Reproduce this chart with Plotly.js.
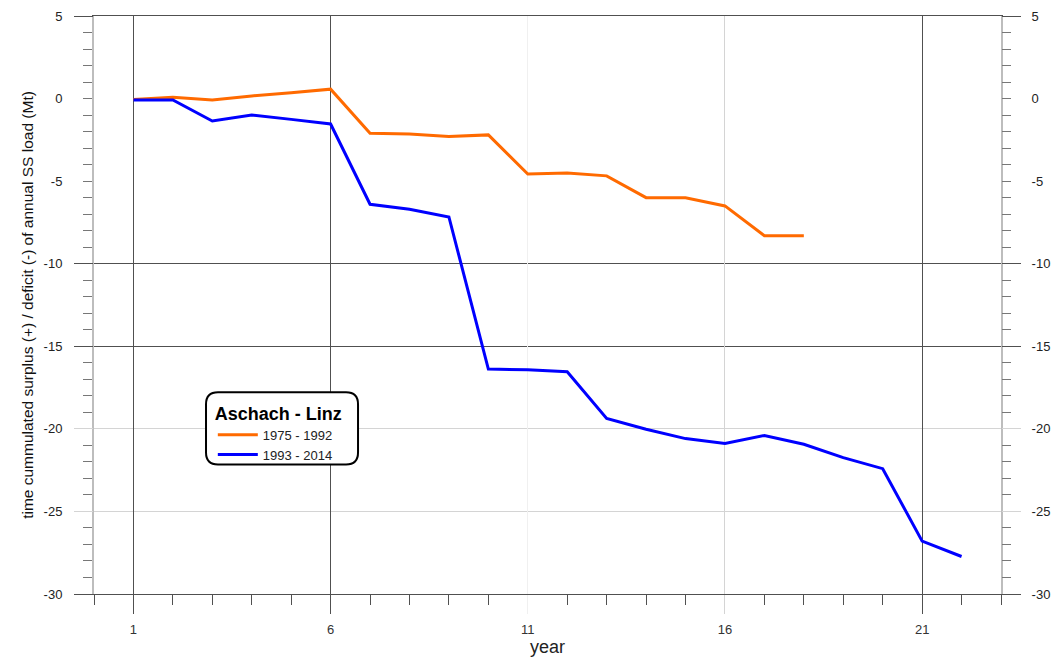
<!DOCTYPE html>
<html>
<head>
<meta charset="utf-8">
<script src="https://cdn.plot.ly/plotly-3.0.1.min.js"></script>
<style>html,body{margin:0;padding:0;background:#fff;}#chart{width:1055px;height:660px;}</style>
</head>
<body>
<div id="chart"></div>
<script>
// ---- data ----
const yearsOrange = [1,2,3,4,5,6,7,8,9,10,11,12,13,14,15,16,17,18];
const valuesOrange = [-0.05,0.08,-0.08,0.16,0.35,0.57,-2.1,-2.15,-2.3,-2.2,-4.57,-4.5,-4.68,-6.0,-6.0,-6.5,-8.3,-8.3];
const yearsBlue = [1,2,3,4,5,6,7,8,9,10,11,12,13,14,15,16,17,18,19,20,21,22];
const valuesBlue = [-0.08,-0.08,-1.36,-1.0,-1.26,-1.54,-6.4,-6.7,-7.17,-16.38,-16.42,-16.54,-19.37,-20.02,-20.59,-20.88,-20.4,-20.93,-21.74,-22.41,-26.8,-27.73];
const seriesNames = ['1975 - 1992','1993 - 2014'];
const legendTitle = 'Aschach - Linz';
const xTickVals = [1,6,11,16,21];
const xTickText = ['1','6','11','16','21'];
const yTickVals = [5,0,-5,-10,-15,-20,-25,-30];
const yTickText = ['5','0','-5','-10','-15','-20','-25','-30'];
const yGridDark = [5,-10,-15,-30];
const yGridLight = [-20,-25];
const xGridDark = [1,6,21];
const xGridLight = [16];
const xGridFaint = [11];
const xTitle = 'year';
const yTitle = 'time cummulated surplus (+) / deficit (-) of annual SS load (Mt)';

const FONT = 'Arial, "Liberation Sans", sans-serif';
const DARK = '#505050', LIGHT = '#d4d4d4', FAINT = '#f0f0f0';

// empty helper traces so that every overlay axis (grid / right labels) gets drawn
function axisHolder(xa, ya) {
  return {x: [], y: [], type: 'scatter', mode: 'lines', xaxis: xa, yaxis: ya,
    showlegend: false, hoverinfo: 'skip'};
}

const traces = [
  axisHolder('x2', 'y'), axisHolder('x3', 'y'), axisHolder('x4', 'y'),
  axisHolder('x', 'y2'), axisHolder('x', 'y3'), axisHolder('x', 'y4'),
  {x: yearsOrange, y: valuesOrange, name: seriesNames[0], type: 'scatter', mode: 'lines',
   line: {color: '#ff6a00', width: 3}},
  {x: yearsBlue, y: valuesBlue, name: seriesNames[1], type: 'scatter', mode: 'lines',
   line: {color: '#0000ff', width: 3}}
];

const XR = [0, 23], YR = [-30, 5];
function gridX(vals, color) {
  return {overlaying: 'x', anchor: 'y', range: XR, tickmode: 'array', tickvals: vals,
    showticklabels: false, ticks: 'outside', ticklen: 19, tickcolor: color, tickwidth: 1,
    showgrid: true, gridcolor: color, gridwidth: 1, zeroline: false, showline: false, fixedrange: true};
}
function gridY(vals, color) {
  return {overlaying: 'y', anchor: 'x', range: YR, tickmode: 'array', tickvals: vals,
    showticklabels: false, ticks: 'outside', ticklen: 19, tickcolor: color, tickwidth: 1, mirror: 'ticks',
    showgrid: true, gridcolor: color, gridwidth: 1, zeroline: false, showline: false, fixedrange: true};
}

// legend rounded box (paper coords)
const bx0 = 0.1235, bx1 = 0.2911, by0 = 0.2242, by1 = 0.3489, rx = 0.0132, ry = 0.0208;
const boxPath = `M${bx0+rx},${by1} L${bx1-rx},${by1} Q${bx1},${by1} ${bx1},${by1-ry} L${bx1},${by0+ry} Q${bx1},${by0} ${bx1-rx},${by0} L${bx0+rx},${by0} Q${bx0},${by0} ${bx0},${by0+ry} L${bx0},${by1-ry} Q${bx0},${by1} ${bx0+rx},${by1} Z`;

const layout = {
  width: 1055, height: 660,
  margin: {l: 94, r: 54, t: 16, b: 66},
  paper_bgcolor: '#fff', plot_bgcolor: 'rgba(0,0,0,0)',
  font: {family: FONT, size: 13, color: '#222'},
  showlegend: true,
  legend: {x: 0.131, y: 0.342, xanchor: 'left', yanchor: 'top', bgcolor: 'rgba(0,0,0,0)', borderwidth: 0,
    title: {text: legendTitle, font: {family: FONT, size: 18, weight: 'bold', color: '#000'}},
    font: {family: FONT, size: 13, color: '#222'}, tracegroupgap: 0, itemwidth: 40},
  xaxis: {range: XR, tickmode: 'array', tickvals: xTickVals, ticktext: xTickText,
    ticks: 'outside', ticklen: 19, tickcolor: 'rgba(0,0,0,0)', ticklabelstandoff: 4,
    minor: {dtick: 1, tick0: 0, ticks: 'outside', ticklen: 10, tickcolor: DARK, tickwidth: 1, showgrid: false},
    showgrid: false, zeroline: false, showline: true, linecolor: DARK, linewidth: 1, mirror: true,
    fixedrange: true,
    tickfont: {family: FONT, size: 13, color: '#333'},
    title: {text: xTitle, font: {family: FONT, size: 18, color: '#222'}, standoff: 2}},
  yaxis: {range: YR, tickmode: 'array', tickvals: yTickVals, ticktext: yTickText,
    ticks: 'outside', ticklen: 19, tickcolor: 'rgba(0,0,0,0)', ticklabelstandoff: 8,
    minor: {dtick: 1, tick0: 0, ticks: 'outside', ticklen: 9, tickcolor: '#777', tickwidth: 1, showgrid: false},
    showgrid: false, zeroline: false, showline: true, linecolor: '#bdbdbd', linewidth: 2, mirror: true,
    fixedrange: true, tickfont: {family: FONT, size: 13, color: '#222'},
    title: {text: yTitle, font: {family: FONT, size: 15.5, color: '#111'}, standoff: 6}},
  yaxis2: {overlaying: 'y', anchor: 'x', side: 'right', range: YR, tickmode: 'array', tickvals: yTickVals, ticktext: yTickText,
    ticks: 'outside', ticklen: 19, tickcolor: 'rgba(0,0,0,0)', ticklabelstandoff: 8,
    minor: {dtick: 1, tick0: 0, ticks: 'outside', ticklen: 9, tickcolor: '#777', tickwidth: 1, showgrid: false},
    showgrid: false, zeroline: false, showline: false, fixedrange: true,
    tickfont: {family: FONT, size: 13, color: '#222'}},
  yaxis3: gridY(yGridDark, DARK),
  yaxis4: gridY(yGridLight, LIGHT),
  xaxis2: gridX(xGridDark, DARK),
  xaxis3: gridX(xGridLight, LIGHT),
  xaxis4: gridX(xGridFaint, FAINT),
  shapes: [
    {type: 'path', xref: 'paper', yref: 'paper', path: boxPath, fillcolor: '#fff',
     line: {color: '#000', width: 2}, layer: 'above'}
  ]
};

Plotly.newPlot('chart', traces, layout, {displayModeBar: false, staticPlot: true});
</script>
</body>
</html>
